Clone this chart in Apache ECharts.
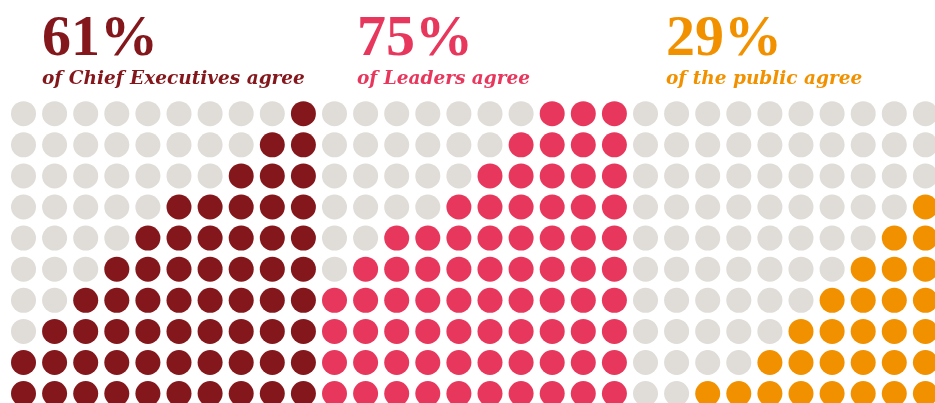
<!DOCTYPE html>
<html>
<head>
<meta charset="utf-8">
<script src="https://cdn.jsdelivr.net/npm/echarts@6/dist/echarts.min.js"></script>
<style>
  html, body { margin: 0; padding: 0; background: #fff; }
  #chart { width: 935px; height: 403px; }
</style>
</head>
<body>
<div id="chart"></div>
<script type="text/javascript">
// share of respondents who agree
var percents = [61, 75, 29];
var subtitles = ['of Chief Executives agree', 'of Leaders agree', 'of the public agree'];
// filled dots in each of the 10 rows, top row first
var ceoRows = [1, 2, 3, 5, 6, 7, 8, 9, 10, 10];
var leaderRows = [3, 4, 5, 6, 8, 9, 10, 10, 10, 10];
var publicRows = [0, 0, 0, 1, 2, 3, 4, 5, 6, 8];

var panelRows = [ceoRows, leaderRows, publicRows];
var colors = ['#84171c', '#e8375d', '#f29100'];
var greyColor = '#e0dcd8';
var textLeft = [42, 357, 666];

var myChart = echarts.init(document.getElementById('chart'));

var emptyDots = [];
var series = [];
panelRows.forEach(function (rows, p) {
    var filled = [];
    rows.forEach(function (n, r) {
        for (var c = 0; c < 10; c++) {
            if (c >= 10 - n) filled.push([p * 10 + c, r]);
            else emptyDots.push([p * 10 + c, r]);
        }
    });
    series.push({
        type: 'scatter',
        data: filled,
        symbolSize: 25,
        itemStyle: { color: colors[p], opacity: 1 },
        silent: true,
        clip: false
    });
});
series.unshift({
    type: 'scatter',
    data: emptyDots,
    symbolSize: 25,
    itemStyle: { color: greyColor, opacity: 1 },
    silent: true,
    clip: false
});

var titles = percents.map(function (v, p) {
    return {
        text: v + '%',
        subtext: subtitles[p],
        left: textLeft[p],
        top: 11,
        padding: 0,
        itemGap: 1,
        textStyle: {
            fontFamily: 'Liberation Serif',
            fontWeight: 'bold',
            fontSize: 58,
            color: colors[p]
        },
        subtextStyle: {
            fontFamily: 'DejaVu Serif',
            fontStyle: 'italic',
            fontWeight: 'bold',
            fontSize: 18.5,
            color: colors[p]
        }
    };
});

var options = {
    animation: false,
    title: titles,
    grid: { left: 23.5, top: 113.7, width: 31.1 * 29, height: 31.1 * 9 },
    xAxis: { type: 'value', min: 0, max: 29, show: false },
    yAxis: { type: 'value', min: 0, max: 9, inverse: true, show: false },
    series: series
};
myChart.setOption(options);
</script>
</body>
</html>
